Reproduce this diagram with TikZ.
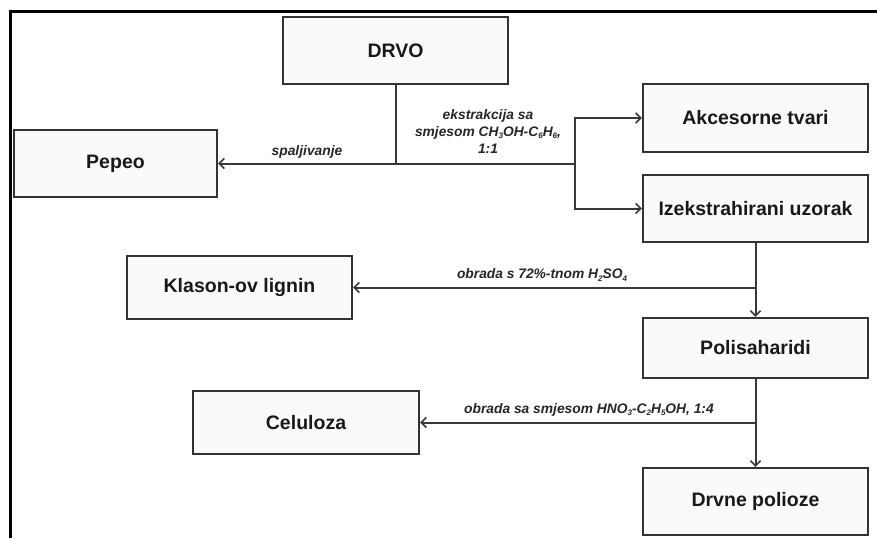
\documentclass[tikz,border=0pt]{standalone}
\usepackage{fontspec}
\setmainfont{Liberation Sans}
\usetikzlibrary{arrows.meta}
\newcommand{\lsub}[1]{\raisebox{-0.3ex}{\fontsize{8}{8}\selectfont #1}}
\begin{document}
\begin{tikzpicture}[x=1pt,y=-1pt,
  box/.style={draw=black!80,line width=2.3pt,fill=black!2,rectangle,inner sep=0pt,
    font=\fontsize{19.5}{22}\selectfont\bfseries,text=black!90},
  conn/.style={draw=black!78,line width=2pt},
  arr/.style={conn,-{Straight Barb[length=5pt,width=10pt,line width=1.6pt]}},
  lab/.style={font=\fontsize{13.8}{17}\selectfont\bfseries\itshape,text=black!85,inner sep=0pt,align=center}]
\useasboundingbox (0,0) rectangle (877,538);
\fill[white] (0,0) rectangle (877,538);
\draw[line width=3pt,black] (10,538) -- (10,11) -- (877,11);

\node[box,minimum width=225pt,minimum height=67pt] (drvo) at (395.5,50.5) {DRVO};
\node[box,minimum width=203pt,minimum height=67pt] (pepeo) at (115.5,163.5) {Pepeo};
\node[box,minimum width=225pt,minimum height=68pt] (akc) at (755.5,118) {Akcesorne tvari};
\node[box,minimum width=225pt,minimum height=67pt] (izek) at (755.5,208.5) {Izekstrahirani uzorak};
\node[box,minimum width=225pt,minimum height=63pt] (klason) at (239.5,287.5) {Klason-ov lignin};
\node[box,minimum width=225pt,minimum height=60pt] (pol) at (755.5,348) {Polisaharidi};
\node[box,minimum width=226pt,minimum height=63pt] (celuloza) at (306,422.5) {Celuloza};
\node[box,minimum width=225pt,minimum height=67pt] (drvne) at (755.5,501.5) {Drvne polioze};

\coordinate (j1) at (drvo.south |- pepeo.east);
\coordinate (j2) at (575,163.5);
\coordinate (j3) at (izek.south |- klason.east);
\coordinate (j4) at (pol.south |- celuloza.east);

\draw[arr] (drvo.south) |- (pepeo.east);
\draw[conn] (j1) -- (j2);
\draw[arr] (j2) |- (akc.west);
\draw[arr] (j2) |- (izek.west);
\draw[arr] (izek.south) -- (pol.north);
\draw[arr] (j3) -- (klason.east);
\draw[arr] (pol.south) -- (drvne.north);
\draw[arr] (j4) -- (celuloza.east);

\node[lab] (l1) at (307,152) {spaljivanje};
\node[lab] (l2) at (488,131) {ekstrakcija sa\\smjesom CH\lsub{3}OH-C\lsub{6}H\lsub{6},\\1:1};
\node[lab] (l3) at (542,275) {obrada s 72\%-tnom H\lsub{2}SO\lsub{4}};
\node[lab] (l4) at (589,410) {obrada sa smjesom HNO\lsub{3}-C\lsub{2}H\lsub{5}OH, 1:4};
\end{tikzpicture}
\end{document}
